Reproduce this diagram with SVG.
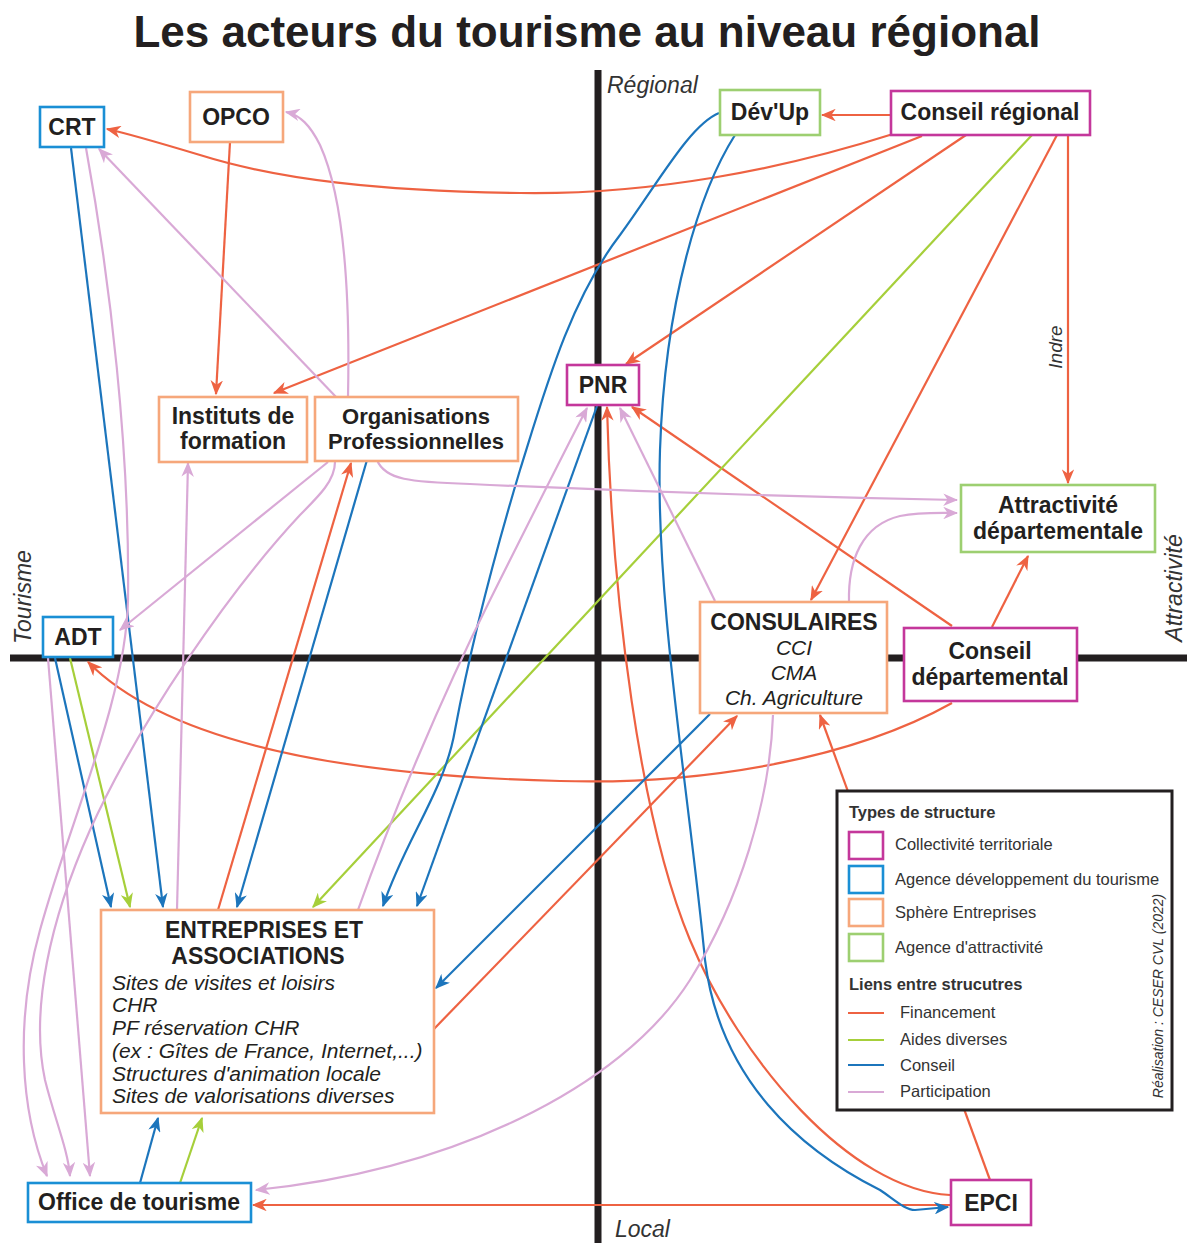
<svg xmlns="http://www.w3.org/2000/svg" width="1187" height="1243" viewBox="0 0 1187 1243">
<style>
text{font-family:"Liberation Sans",Arial,sans-serif;fill:#231F20}
.t{font-size:44px;font-weight:bold}
.ax{font-size:23px;font-style:italic;fill:#333}
.n{font-size:23px;font-weight:bold;text-anchor:middle}
.it{font-size:21px;font-style:italic}
.itc{font-size:21px;font-style:italic;text-anchor:middle}
.lg{font-size:16.5px;fill:#333}
.lgb{font-size:16.5px;font-weight:bold;fill:#333}
.box{fill:#fff;stroke-width:2.6}
.mag{stroke:#C4379B}.blu{stroke:#1A8FD5}.ora{stroke:#F6A77B}.gre{stroke:#9DCF71}
.axis{stroke:#231F20;stroke-width:7;fill:none}
.f,.a,.c,.p{fill:none;stroke-width:2.2}
.f{stroke:#EE6242}.a{stroke:#A6CF3A}.c{stroke:#1C75BC}.p{stroke:#D9A9D6}
.fa{marker-end:url(#mf)}.aa{marker-end:url(#ma)}.ca{marker-end:url(#mc)}.pa{marker-end:url(#mp)}
</style>
<defs>
<marker id="mf" viewBox="0 0 12 10" refX="11" refY="5" markerWidth="15" markerHeight="12.5" markerUnits="userSpaceOnUse" orient="auto"><path d="M0,0 L12,5 L0,10 L3.5,5 Z" fill="#EE6242"/></marker>
<marker id="ma" viewBox="0 0 12 10" refX="11" refY="5" markerWidth="15" markerHeight="12.5" markerUnits="userSpaceOnUse" orient="auto"><path d="M0,0 L12,5 L0,10 L3.5,5 Z" fill="#A6CF3A"/></marker>
<marker id="mc" viewBox="0 0 12 10" refX="11" refY="5" markerWidth="15" markerHeight="12.5" markerUnits="userSpaceOnUse" orient="auto"><path d="M0,0 L12,5 L0,10 L3.5,5 Z" fill="#1C75BC"/></marker>
<marker id="mp" viewBox="0 0 12 10" refX="11" refY="5" markerWidth="15" markerHeight="12.5" markerUnits="userSpaceOnUse" orient="auto"><path d="M0,0 L12,5 L0,10 L3.5,5 Z" fill="#D9A9D6"/></marker>
</defs>
<rect width="1187" height="1243" fill="#fff"/>
<text class="t" x="587" y="47" text-anchor="middle">Les acteurs du tourisme au niveau régional</text>

<g id="axes">
<line class="axis" x1="598" y1="70" x2="598" y2="1243"/>
<line class="axis" x1="10" y1="658" x2="1187" y2="658"/>
<text class="ax" x="607" y="93">Régional</text>
<text class="ax" x="615" y="1237">Local</text>
<text class="ax" transform="translate(31,597) rotate(-90)" text-anchor="middle">Tourisme</text>
<text class="ax" transform="translate(1182,588) rotate(-90)" text-anchor="middle">Attractivité</text>
</g>

<g id="connectors">
<!-- Financement -->
<path class="f fa" d="M890,115 L822,115"/>
<path class="f fa" d="M893,134 C 780,170 650,195 520,193 C 380,191 280,180 200,155 C 160,143 130,134 107,129"/>
<path class="f fa" d="M922,136 L274,393"/>
<path class="f fa" d="M966,135 L626,364"/>
<path class="f fa" d="M1057,135 L811,600"/>
<path class="f fa" d="M1068,135 L1068,483"/>
<text class="ax" style="font-size:19px" transform="translate(1062,347) rotate(-90)" text-anchor="middle">Indre</text>
<path class="f fa" d="M230,142 L216,394"/>
<path class="f fa" d="M992,627 L1028,556"/>
<path class="f fa" d="M952,626 L632,407"/>
<path class="f fa" d="M952,703 C 850,760 700,785 560,781 C 350,776 170,745 88,662"/>
<path class="f fa" d="M218,910 L351,463"/>
<path class="f fa" d="M433,1030 L737,716"/>
<path class="f fa" d="M950,1195 C 850,1190 740,1060 690,940 C 640,820 612,600 607,407"/>
<path class="f fa" d="M950,1205 L253,1205"/>
<path class="f fa" d="M990,1180 L820,715"/>
<!-- Aides diverses -->
<path class="a aa" d="M1032,135 L313,907"/>
<path class="a aa" d="M70,658 L130,907"/>
<path class="a aa" d="M180,1183 L202,1118"/>
<!-- Conseil -->
<path class="c ca" d="M71,148 L163,907"/>
<path class="c ca" d="M55,658 L111,907"/>
<path class="c ca" d="M367,460 L237,907"/>
<path class="c ca" d="M719,113 C 690,125 660,180 620,235 C 570,300 545,390 520,470 C 490,570 470,650 455,730 C 445,790 405,840 383,906"/>
<path class="c ca" d="M597,406 L417,906"/>
<path class="c ca" d="M735,135 C 700,190 665,300 660,450 C 655,600 690,800 705,960 C 720,1080 800,1150 880,1190 C 895,1200 905,1210 915,1210 L948,1207"/>
<path class="c ca" d="M710,714 L436,988"/>
<path class="c ca" d="M140,1183 L158,1118"/>
<!-- Participation -->
<path class="p pa" d="M348,397 C 350,300 345,200 320,145 C 310,125 300,115 286,112"/>
<path class="p pa" d="M337,398 L99,149"/>
<path class="p pa" d="M377,460 C 385,480 410,482 470,484 C 600,490 800,497 957,500"/>
<path class="p pa" d="M328,462 L120,630"/>
<path class="p pa" d="M335,462 C 335,480 320,495 300,515 C 230,590 140,720 90,830 C 50,920 30,1010 45,1080 C 55,1120 68,1150 70,1176"/>
<path class="p pa" d="M86,148 C 110,280 130,450 128,600 C 126,700 70,820 40,930 C 15,1020 20,1110 47,1176"/>
<path class="p pa" d="M48,658 L90,1176"/>
<path class="p pa" d="M177,910 L188,463"/>
<path class="p pa" d="M358,910 C 390,820 440,700 490,600 C 530,520 560,460 587,408"/>
<path class="p pa" d="M715,601 L620,408"/>
<path class="p pa" d="M849,602 C 848,560 862,525 900,516 C 920,512 940,513 957,513"/>
<path class="p pa" d="M773,715 C 770,800 740,900 690,980 C 620,1090 450,1170 256,1190"/>
</g>

<g id="crt"><rect class="box blu" x="40" y="107" width="64" height="40"/><text class="n" x="72" y="135">CRT</text></g>
<g id="opco"><rect class="box ora" x="190" y="92" width="93" height="50"/><text class="n" x="236" y="125">OPCO</text></g>
<g id="devup"><rect class="box gre" x="720" y="90" width="100" height="45"/><text class="n" x="770" y="120">Dév'Up</text></g>
<g id="conseil-regional"><rect class="box mag" x="891" y="91" width="199" height="44"/><text class="n" x="990" y="120">Conseil régional</text></g>
<g id="pnr"><rect class="box mag" x="567" y="365" width="72" height="40"/><text class="n" x="603" y="393">PNR</text></g>
<g id="instituts"><rect class="box ora" x="159" y="397" width="148" height="65"/><text class="n" x="233" y="424">Instituts de</text><text class="n" x="233" y="449">formation</text></g>
<g id="orgpro"><rect class="box ora" x="315" y="397" width="203" height="64"/><text class="n" style="font-size:22px" x="416" y="424">Organisations</text><text class="n" style="font-size:22px" x="416" y="449">Professionnelles</text></g>
<g id="attractivite"><rect class="box gre" x="961" y="485" width="194" height="67"/><text class="n" x="1058" y="513">Attractivité</text><text class="n" x="1058" y="539">départementale</text></g>
<g id="consulaires"><rect class="box ora" x="700" y="602" width="187" height="111"/><text class="n" x="794" y="630">CONSULAIRES</text><text class="itc" x="794" y="655">CCI</text><text class="itc" x="794" y="680">CMA</text><text class="itc" x="794" y="705">Ch. Agriculture</text></g>
<g id="conseil-departemental"><rect class="box mag" x="904" y="628" width="173" height="73"/><text class="n" x="990" y="659">Conseil</text><text class="n" x="990" y="685">départemental</text></g>
<g id="adt"><rect class="box blu" x="43" y="617" width="70" height="40"/><text class="n" x="78" y="645">ADT</text></g>
<g id="entreprises"><rect class="box ora" x="101" y="910" width="333" height="203"/><text class="n" x="264" y="938">ENTREPRISES ET</text><text class="n" x="258" y="964">ASSOCIATIONS</text>
<text class="it" x="112" y="990">Sites de visites et loisirs</text><text class="it" x="112" y="1012">CHR</text><text class="it" x="112" y="1035">PF réservation CHR</text><text class="it" x="112" y="1058">(ex : Gîtes de France, Internet,...)</text><text class="it" x="112" y="1081">Structures d'animation locale</text><text class="it" x="112" y="1103">Sites de valorisations diverses</text></g>
<g id="office"><rect class="box blu" x="28" y="1183" width="223" height="39"/><text class="n" x="139" y="1210">Office de tourisme</text></g>
<g id="epci"><rect class="box mag" x="951" y="1180" width="80" height="45"/><text class="n" x="991" y="1211">EPCI</text></g>

<g id="legend">
<rect x="837" y="791" width="335" height="319" fill="#fff" stroke="#231F20" stroke-width="3"/>
<text class="lgb" x="849" y="818">Types de structure</text>
<rect class="box mag" x="849" y="832" width="34" height="27"/><text class="lg" x="895" y="850">Collectivité territoriale</text>
<rect class="box blu" x="849" y="866" width="34" height="27"/><text class="lg" x="895" y="885">Agence développement du tourisme</text>
<rect class="box ora" x="849" y="899" width="34" height="27"/><text class="lg" x="895" y="918">Sphère Entreprises</text>
<rect class="box gre" x="849" y="934" width="34" height="27"/><text class="lg" x="895" y="953">Agence d'attractivité</text>
<text class="lgb" x="849" y="990">Liens entre strucutres</text>
<line class="f" x1="848" y1="1013" x2="884" y2="1013"/><text class="lg" x="900" y="1018">Financement</text>
<line class="a" x1="848" y1="1040" x2="884" y2="1040"/><text class="lg" x="900" y="1045">Aides diverses</text>
<line class="c" x1="848" y1="1065" x2="884" y2="1065"/><text class="lg" x="900" y="1071">Conseil</text>
<line class="p" x1="848" y1="1092" x2="884" y2="1092"/><text class="lg" x="900" y="1097">Participation</text>
<text class="lg" style="font-size:14px;font-style:italic" transform="translate(1163,996) rotate(-90)" text-anchor="middle">Réalisation : CESER CVL (2022)</text>
</g>
</svg>
